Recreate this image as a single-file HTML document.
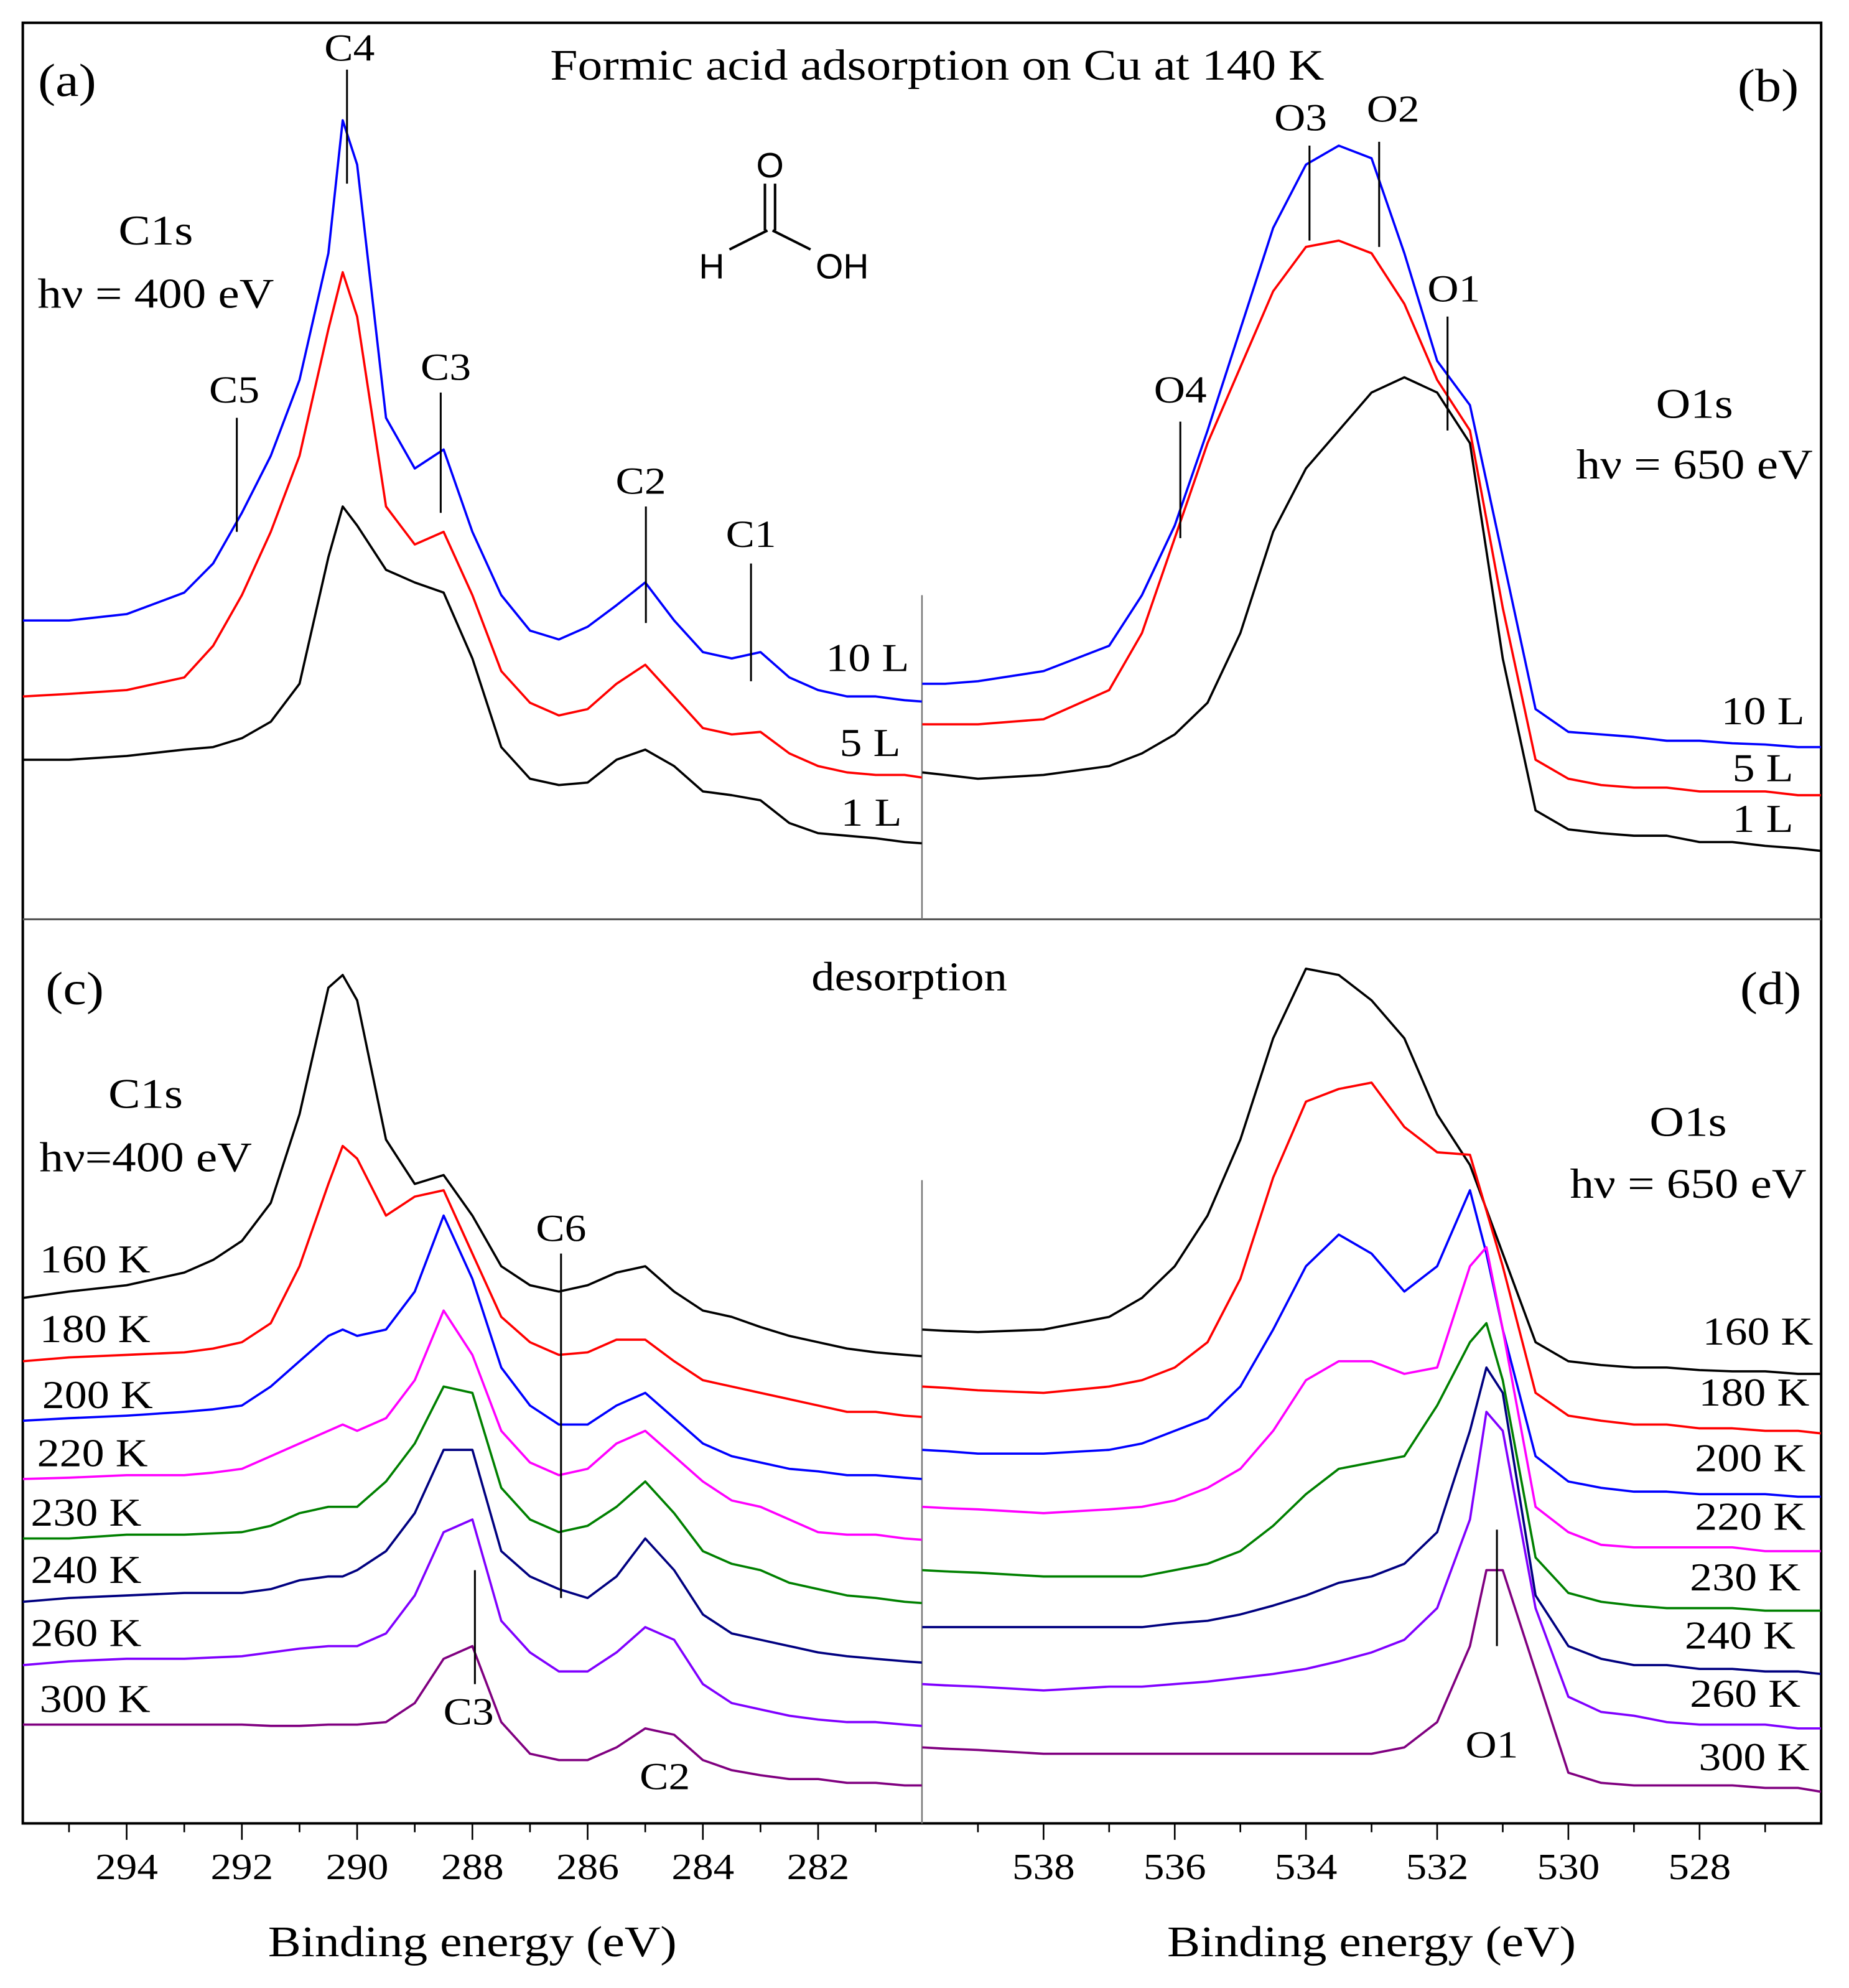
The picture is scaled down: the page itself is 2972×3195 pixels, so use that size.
<!DOCTYPE html>
<html><head><meta charset="utf-8"><style>
html,body{margin:0;padding:0;background:#fff}
svg{display:block}
text{font-family:"Liberation Serif",serif;fill:#000}
</style></head><body>
<svg id="fig" width="2972" height="3195" viewBox="0 0 1460 1570" preserveAspectRatio="none" xmlns="http://www.w3.org/2000/svg">
<g id="static">
<rect x="18" y="18" width="1420" height="1422" fill="none" stroke="#000" stroke-width="2"/>
<line x1="18" y1="726" x2="1438" y2="726" stroke="#555" stroke-width="1.5"/>
<line x1="728" y1="470" x2="728" y2="726" stroke="#777" stroke-width="1.2"/>
<line x1="728" y1="932" x2="728" y2="1440" stroke="#777" stroke-width="1.2"/>
<text x="30" y="76" font-size="34">(a)</text>
<text x="740" y="63" font-size="32" text-anchor="middle">Formic acid adsorption on Cu at 140 K</text>
<text x="1372" y="80" font-size="34">(b)</text>
<text x="36" y="793" font-size="34">(c)</text>
<text x="718" y="782" font-size="30" text-anchor="middle">desorption</text>
<text x="1374" y="793" font-size="34">(d)</text>
<text x="123" y="193" font-size="31" text-anchor="middle">C1s</text>
<text x="123" y="243" font-size="31" text-anchor="middle">hν = 400 eV</text>
<text x="1338" y="330" font-size="31" text-anchor="middle">O1s</text>
<text x="1338" y="378" font-size="31" text-anchor="middle">hν = 650 eV</text>
<text x="115" y="875" font-size="31" text-anchor="middle">C1s</text>
<text x="115" y="925" font-size="31" text-anchor="middle">hν=400 eV</text>
<text x="1333" y="897" font-size="31" text-anchor="middle">O1s</text>
<text x="1333" y="946" font-size="31" text-anchor="middle">hν = 650 eV</text>
<g stroke="#000" stroke-width="2">
<line x1="604" y1="145" x2="604" y2="182"/><line x1="612" y1="145" x2="612" y2="182"/>
<line x1="576" y1="197" x2="606" y2="182"/><line x1="610" y1="182" x2="640" y2="197"/>
</g>
<text class="sans" x="608" y="140" font-size="28" text-anchor="middle" style="font-family:'Liberation Sans',sans-serif">O</text>
<text class="sans" x="562" y="220" font-size="28" text-anchor="middle" style="font-family:'Liberation Sans',sans-serif">H</text>
<text class="sans" x="665" y="220" font-size="28" text-anchor="middle" style="font-family:'Liberation Sans',sans-serif">OH</text>
<text x="373" y="1545" font-size="32" text-anchor="middle">Binding energy (eV)</text>
<text x="1083" y="1545" font-size="32" text-anchor="middle">Binding energy (eV)</text>
</g>
<g id="marks"></g>
<g id="labels"></g>
</svg>
<script>
// C1s energies (eV) and O1s energies (eV)
const cEnergies=[295.8,295,294,293,292.5,292,291.5,291,290.5,290.25,290,289.5,289,288.5,288,287.5,287,286.5,286,285.5,285,284.5,284,283.5,283,282.5,282,281.5,281,280.5,280.2];
const oEnergies=[539.85,539.5,539,538,537,536.5,536,535.5,535,534.5,534,533.5,533,532.5,532,531.5,531.25,531,530.5,530,529.5,529,528.5,528,527.5,527,526.5,526.15];
const cTicks=[294,292,290,288,286,284,282];
const oTicks=[538,536,534,532,530,528];
// panel (a) intensities
const a10L=[240,240,245,262,285,325,370,430,530,635,600,400,360,375,310,260,232,225,235,252,270,240,215,210,215,195,185,180,180,177,176];
const a5L=[180,182,185,195,220,260,310,370,470,515,480,330,300,310,260,200,175,165,170,190,205,180,155,150,152,135,125,120,118,118,116];
const a1L=[130,130,133,138,140,147,160,190,290,330,315,280,270,262,210,140,115,110,112,130,138,125,105,102,98,80,72,70,68,65,64];
// panel (b)
const b10L=[190,190,192,200,220,260,315,390,470,550,600,615,605,530,445,410,350,290,170,152,150,148,145,145,143,142,140,140];
const b5L=[158,158,158,162,185,230,305,380,440,500,535,540,530,490,430,390,320,250,130,115,110,108,108,105,105,105,102,102];
const b1L=[120,118,115,118,125,135,150,175,230,310,360,390,420,432,420,380,295,210,90,75,72,70,70,65,65,62,60,58];
// panel (c)
const c160=[415,420,425,435,445,460,490,560,660,670,650,540,505,512,480,440,425,420,425,435,440,420,405,400,392,385,380,375,372,370,369];
const c180=[365,368,370,372,375,380,395,440,505,535,525,480,495,500,450,400,380,370,372,382,382,365,350,345,340,335,330,325,325,322,321];
const c200=[318,320,322,325,327,330,345,365,385,390,385,390,420,480,430,360,330,315,315,330,340,320,300,290,285,280,278,275,275,273,272];
const c220=[272,273,275,275,277,280,290,300,310,315,310,320,350,405,370,310,285,275,280,300,310,290,270,255,250,240,230,228,228,225,224];
const c230=[225,225,228,228,229,230,235,245,250,250,250,270,300,345,340,265,240,230,235,250,270,245,215,205,200,190,185,180,178,175,174];
const c240=[175,178,180,182,182,182,185,192,195,195,200,215,245,295,295,215,195,185,178,195,225,200,165,150,145,140,135,132,130,128,127];
const c260=[125,128,130,130,131,132,135,138,140,140,140,150,180,230,240,160,135,120,120,135,155,145,110,95,90,85,82,80,80,78,77];
const c300=[78,78,78,78,78,78,77,77,78,78,78,80,95,130,140,80,55,50,50,60,75,70,50,42,38,35,35,32,32,30,30];
// panel (d)
const d160=[390,389,388,390,400,415,440,480,540,620,675,670,650,620,560,520,485,450,380,365,362,360,360,358,357,357,355,355];
const d180=[345,344,342,340,345,350,360,380,430,510,570,580,585,550,530,528,484,440,340,322,318,315,315,312,312,310,310,308];
const d200=[295,294,292,292,295,300,310,320,345,390,440,465,450,420,440,500,450,390,290,270,265,262,262,260,260,260,258,258];
const d220=[250,249,248,245,248,250,255,265,280,310,350,365,365,355,360,440,455,390,250,230,220,218,218,218,218,215,215,215];
const d230=[200,199,198,195,195,195,200,205,215,235,260,280,285,290,330,380,395,350,210,182,175,172,170,170,170,168,168,168];
const d240=[155,155,155,155,155,155,158,160,165,172,180,190,195,205,230,310,360,340,180,140,130,125,125,122,122,120,120,118];
const d260=[110,109,108,105,108,108,110,112,115,118,122,128,135,145,170,240,325,310,170,100,88,85,80,78,78,78,75,75];
const d300=[60,59,58,55,55,55,55,55,55,55,55,55,55,60,80,140,200,200,120,40,32,30,30,30,30,28,28,25];

const NS="http://www.w3.org/2000/svg";
const xC=e=>100+(294-e)*45.5;
const xO=e=>824+(538-e)*51.8;
const yTop=v=>730-v;
const yBot=v=>1440-v;
const marks=document.getElementById('marks');
const labels=document.getElementById('labels');
function line(name,energies,vals,xf,yf,color){
  const p=document.createElementNS(NS,'polyline');
  p.setAttribute('points',energies.map((e,i)=>xf(e).toFixed(1)+','+yf(vals[i]).toFixed(1)).join(' '));
  p.setAttribute('fill','none');p.setAttribute('stroke',color);p.setAttribute('stroke-width','1.8');p.setAttribute('stroke-linejoin','round');
  
  
  marks.appendChild(p);
}
function txt(name,x,y,s,size,anchor){
  const t=document.createElementNS(NS,'text');
  t.setAttribute('x',x);t.setAttribute('y',y);t.setAttribute('font-size',size||29);
  if(anchor)t.setAttribute('text-anchor',anchor);
  t.textContent=s;
  
  
  labels.appendChild(t);
}
function seg(name,x,y1,y2){
  const l=document.createElementNS(NS,'line');
  l.setAttribute('x1',x);l.setAttribute('x2',x);l.setAttribute('y1',y1);l.setAttribute('y2',y2);
  l.setAttribute('stroke','#000');l.setAttribute('stroke-width','1.5');
  
  
  labels.appendChild(l);
}
const BLK='#000',RED='#ff0000',BLU='#0000ff',MAG='#ff00ff',GRN='#008000',NAV='#000080',VIO='#8000ff',PUR='#800080';
line('spectrum-a-10L',cEnergies,a10L,xC,yTop,BLU);
line('spectrum-a-5L',cEnergies,a5L,xC,yTop,RED);
line('spectrum-a-1L',cEnergies,a1L,xC,yTop,BLK);
line('spectrum-b-10L',oEnergies,b10L,xO,yTop,BLU);
line('spectrum-b-5L',oEnergies,b5L,xO,yTop,RED);
line('spectrum-b-1L',oEnergies,b1L,xO,yTop,BLK);
[[c160,BLK,'160'],[c180,RED,'180'],[c200,BLU,'200'],[c220,MAG,'220'],[c230,GRN,'230'],[c240,NAV,'240'],[c260,VIO,'260'],[c300,PUR,'300']].forEach(s=>line('spectrum-c-'+s[2]+'K',cEnergies,s[0],xC,yBot,s[1]));
[[d160,BLK,'160'],[d180,RED,'180'],[d200,BLU,'200'],[d220,MAG,'220'],[d230,GRN,'230'],[d240,NAV,'240'],[d260,VIO,'260'],[d300,PUR,'300']].forEach(s=>line('spectrum-d-'+s[2]+'K',oEnergies,s[0],xO,yBot,s[1]));

// ticks
for(let e=295;e>=281;e--){const x=xC(e);const l=document.createElementNS(NS,'line');l.setAttribute('x1',x);l.setAttribute('x2',x);l.setAttribute('y1',1440);l.setAttribute('y2',e%2===0?1453:1447);l.setAttribute('stroke','#000');l.setAttribute('stroke-width','1.3');


labels.appendChild(l);}
for(let e=539;e>=527;e--){const x=xO(e);const l=document.createElementNS(NS,'line');l.setAttribute('x1',x);l.setAttribute('x2',x);l.setAttribute('y1',1440);l.setAttribute('y2',e%2===0?1453:1447);l.setAttribute('stroke','#000');l.setAttribute('stroke-width','1.3');


labels.appendChild(l);}
cTicks.forEach(e=>txt('c1s-tick-label',xC(e),1484,e,27,'middle'));
oTicks.forEach(e=>txt('o1s-tick-label',xO(e),1484,e,27,'middle'));

// peak annotations
txt('c4-label',276,48,'C4',28,'middle');seg('c4-marker',274,55,145);
txt('c5-label',185,318,'C5',28,'middle');seg('c5-marker',187,330,420);
txt('c3-label',352,300,'C3',28,'middle');seg('c3-marker',348,310,405);
txt('c2-label',506,390,'C2',28,'middle');seg('c2-marker',510,400,492);
txt('c1-label',593,432,'C1',28,'middle');seg('c1-marker',593,445,538);
txt('o3-label',1027,103,'O3',28,'middle');seg('o3-marker',1034,115,190);
txt('o2-label',1100,96,'O2',28,'middle');seg('o2-marker',1089,112,195);
txt('o1-label',1148,238,'O1',28,'middle');seg('o1-marker',1143,250,340);
txt('o4-label',932,318,'O4',28,'middle');seg('o4-marker',932,333,425);
txt('c6-label',443,980,'C6',28,'middle');seg('c6-marker',443,990,1262);
txt('c3-label-c',370,1362,'C3',28,'middle');seg('c3-marker-c',375,1240,1330);
txt('c2-label-c',525,1413,'C2',28,'middle');
txt('o1-label-d',1178,1388,'O1',28,'middle');seg('o1-marker-d',1182,1208,1300);

// series labels
[['10 L',685,530],['5 L',687,597],['1 L',688,652]].forEach(l=>txt('dose-label-a',l[1],l[2],l[0],29,'middle'));
[['10 L',1392,572],['5 L',1392,617],['1 L',1392,657]].forEach(l=>txt('dose-label-b',l[1],l[2],l[0],29,'middle'));
[['160 K',75,1005],['180 K',75,1060],['200 K',77,1112],['220 K',73,1158],['230 K',68,1205],['240 K',68,1250],['260 K',68,1300],['300 K',75,1352]].forEach(l=>txt('temp-label-c',l[1],l[2],l[0],29,'middle'));
[['160 K',1388,1062],['180 K',1385,1110],['200 K',1382,1162],['220 K',1382,1208],['230 K',1378,1256],['240 K',1374,1302],['260 K',1378,1348],['300 K',1385,1398]].forEach(l=>txt('temp-label-d',l[1],l[2],l[0],29,'middle'));

// widen serif glyphs to match the reference's stretched type
document.querySelectorAll('#fig text').forEach(t=>{
  if(t.classList.contains('sans'))return;
  const x=+t.getAttribute('x'),y=+t.getAttribute('y'),fs=+t.getAttribute('font-size');
  t.setAttribute('font-size',(fs*1.08).toFixed(1));
  t.setAttribute('x',0);t.setAttribute('y',0);
  t.setAttribute('transform','translate('+x+' '+y+') scale(1.13 1)');
});
</script>
</body></html>
